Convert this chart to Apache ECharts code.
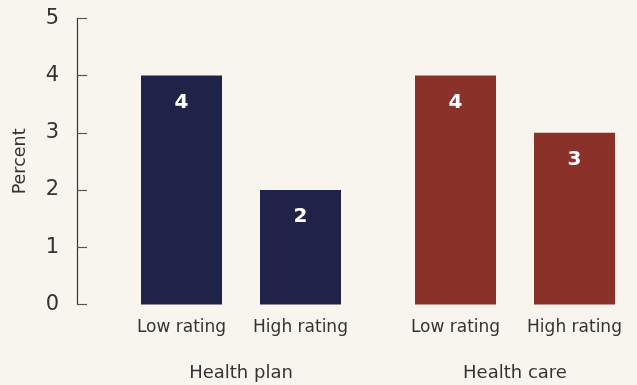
<!DOCTYPE html>
<html>
<head>
<meta charset="utf-8">
<script src="https://cdn.jsdelivr.net/npm/echarts@6/dist/echarts.min.js"></script>
<style>
html,body{margin:0;padding:0;background:#f8f5ef;}
#chart{width:637px;height:385px;}
</style>
</head>
<body>
<div id="chart"></div>
<script>
const ratingCategories = ["Low rating", "High rating"];
const groupNames = ["Health plan", "Health care"];
const healthPlanValues = [4, 2];
const healthCareValues = [4, 3];
const yTicks = [0, 1, 2, 3, 4, 5];

const FONT = "DejaVu Sans";
const TEXT = "#333333";
const colors = ["#1e2347", "#8a3129"];
const chart = echarts.init(document.getElementById('chart'));

const grids = [
  {left: 122, width: 238, top: 18.3, bottom: 80.5},
  {left: 396, width: 238, top: 18.3, bottom: 80.5}
];

const xAxes = [];
const yAxes = [];
const series = [];
const groupValues = [healthPlanValues, healthCareValues];
for (let g = 0; g < 2; g++) {
  xAxes.push({
    type: 'category', gridIndex: g, data: ratingCategories,
    axisLine: {show: false}, axisTick: {show: false},
    axisLabel: {interval: 0, hideOverlap: false, fontFamily: FONT, fontSize: 17, color: TEXT, margin: 15}
  });
  xAxes.push({
    type: 'category', gridIndex: g, data: [groupNames[g]], position: 'bottom', offset: 45,
    axisLine: {show: false}, axisTick: {show: false},
    axisLabel: {interval: 0, fontFamily: FONT, fontSize: 18, color: TEXT, margin: 15}
  });
  yAxes.push({
    type: 'value', gridIndex: g, min: yTicks[0], max: yTicks[yTicks.length - 1], interval: 1,
    show: g === 0, offset: 45,
    name: g === 0 ? 'Percent' : '', nameLocation: 'middle', nameGap: 48,
    nameTextStyle: {fontFamily: FONT, fontSize: 17.5, color: TEXT},
    splitLine: {show: false},
    axisLine: {show: true, lineStyle: {color: '#333', width: 1.2}},
    axisTick: {show: true, inside: true, length: 10, lineStyle: {color: '#555', width: 1.2}},
    axisLabel: {fontFamily: FONT, fontSize: 21, color: TEXT, margin: 18}
  });
  series.push({
    type: 'bar', xAxisIndex: g * 2, yAxisIndex: g, data: groupValues[g],
    barWidth: 81, itemStyle: {color: colors[g]},
    label: {show: true, position: 'insideTop', distance: 17, color: '#fff',
      fontFamily: FONT, fontWeight: 'bold', fontSize: 20,
      formatter: p => Math.round(p.value)}
  });
}

chart.setOption({
  backgroundColor: '#f8f5ef',
  animation: false,
  grid: grids,
  xAxis: xAxes,
  yAxis: yAxes,
  series: series
});
</script>
</body>
</html>
